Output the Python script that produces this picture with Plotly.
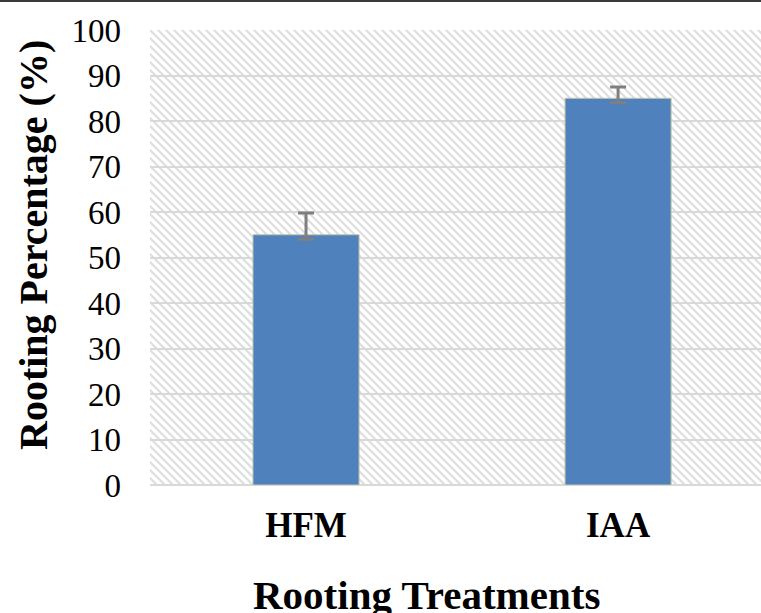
import base64
import plotly.graph_objects as go

categories = ["HFM", "IAA"]
rooting_pct = [55, 85]
err_plus = [4.8, 2.5]
err_minus = [1.0, 1.0]
y_ticks = [0, 10, 20, 30, 40, 50, 60, 70, 80, 90, 100]

W, H = 761, 613
L, R, T, B = 150, 0, 30, 128
PW, PH = W - L - R, H - T - B

FONT = "Liberation Serif, Times New Roman, serif"

svg = f'''<svg xmlns="http://www.w3.org/2000/svg" width="{PW}" height="{PH}" viewBox="0 0 {PW} {PH}">
<defs><pattern id="p" patternUnits="userSpaceOnUse" width="8" height="8">
<path d="M-2,-2 L10,10 M-2,6 L2,10 M6,-2 L10,2" stroke="#dedede" stroke-width="2.2"/>
</pattern></defs>
<rect width="{PW}" height="{PH}" fill="white"/>
<rect width="{PW}" height="{PH}" fill="url(#p)"/>
</svg>'''
src = "data:image/svg+xml;base64," + base64.b64encode(svg.encode()).decode()

fig = go.Figure()
fig.add_trace(go.Bar(
    x=categories, y=rooting_pct, width=0.34,
    marker=dict(color="#4F81BD", line=dict(color="#c3c8a6", width=1)),
    error_y=dict(type="data", symmetric=False, array=err_plus, arrayminus=err_minus,
                 color="#7f7f7f", thickness=3, width=8),
    hoverinfo="skip",
))

fig.update_layout(
    width=W, height=H,
    margin=dict(l=L, r=R, t=T, b=B, pad=0),
    paper_bgcolor="white", plot_bgcolor="white",
    showlegend=False,
    font=dict(family=FONT, color="black"),
    images=[dict(source=src, xref="paper", yref="paper", x=0, y=1, sizex=1, sizey=1,
                 xanchor="left", yanchor="top", sizing="stretch", layer="below")],
    xaxis=dict(range=[-0.5, 1.458], showgrid=False, showline=False, zeroline=False,
               ticks="", tickfont=dict(size=35, family=FONT, weight="bold"),
               ticklabelstandoff=16),
    yaxis=dict(range=[0, 100], tickvals=y_ticks, showgrid=True, gridcolor="#d9d9d9",
               gridwidth=2, zeroline=True, zerolinecolor="#d9d9d9", zerolinewidth=2,
               showline=False, ticks="", tickfont=dict(size=33, family=FONT),
               ticklabelstandoff=28),
    shapes=[dict(type="line", xref="paper", yref="paper", x0=-L / PW, x1=1,
                 y0=1 + (T - 1) / PH, y1=1 + (T - 1) / PH,
                 line=dict(color="#3a3a3a", width=2))],
    annotations=[
        dict(text="<b>Rooting Percentage (%)</b>", textangle=-90, showarrow=False,
             xref="paper", yref="paper", x=(33 - L) / PW, y=(T + PH - 245) / PH,
             xanchor="center", yanchor="middle", font=dict(size=40, family=FONT)),
        dict(text="<b>Rooting Treatments</b>", showarrow=False,
             xref="paper", yref="paper", x=(426 - L) / PW, y=-(595 - T - PH) / PH,
             xanchor="center", yanchor="middle", font=dict(size=41, family=FONT)),
    ],
)

fig.write_html("out.html", config={"displayModeBar": False},
               post_script="document.body.style.margin='0px';")
